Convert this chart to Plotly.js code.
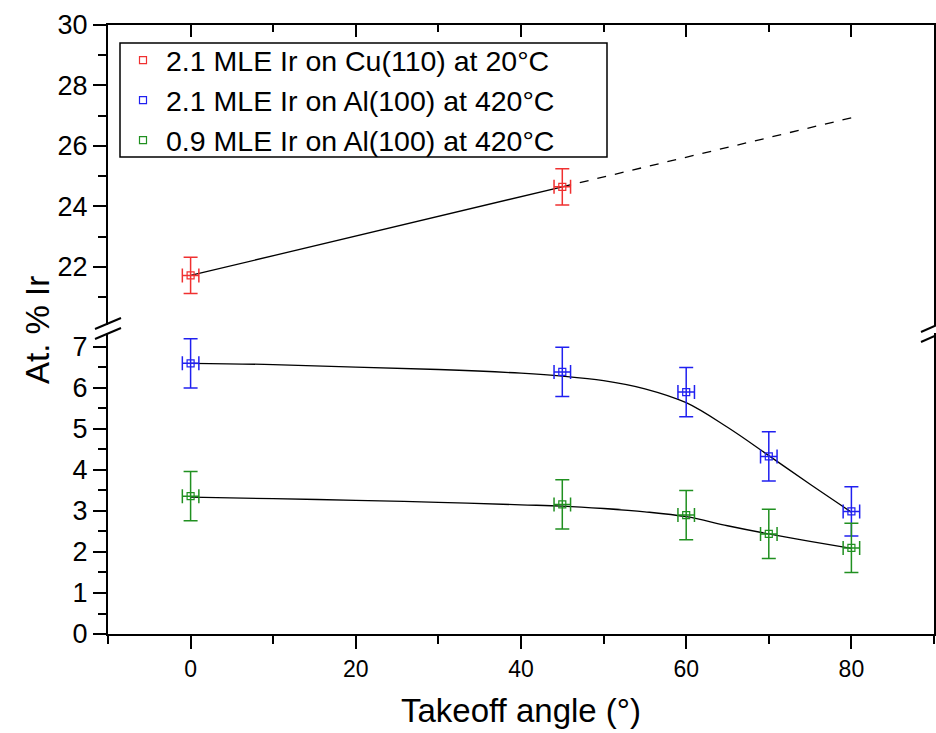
<!DOCTYPE html>
<html>
<head>
<meta charset="utf-8">
<script src="https://cdn.plot.ly/plotly-3.0.1.min.js"></script>
<style>html,body{margin:0;padding:0;background:#fff;}#chart{width:936px;height:733px;}</style>
</head>
<body>
<div id="chart"></div>
<script>
// ---- data ----
const seriesNames = ["2.1 MLE Ir on Cu(110) at 20°C", "2.1 MLE Ir on Al(100) at 420°C", "0.9 MLE Ir on Al(100) at 420°C"];
// Cu(110) points (upper panel)
const cuX = [0, 45];
const cuY = [21.72, 24.65];
const cuErrY = [0.6, 0.6];
const cuErrX = [1, 1];
// Cu guide line (solid) and extrapolation (dashed)
const cuLineX = [0, 45];
const cuLineY = [21.72, 24.65];
const cuDashX = [45, 80];
const cuDashY = [24.65, 26.93];
// Al(100) 2.1 MLE points
const al21X = [0, 45, 60, 70, 80];
const al21Y = [6.6, 6.39, 5.9, 4.33, 2.99];
const al21ErrY = [0.6, 0.6, 0.6, 0.6, 0.6];
const al21ErrX = [1, 1, 1, 1, 1];
// Al(100) 2.1 MLE fitted curve
const al21FitX = [0, 10, 20, 30, 40, 45, 50, 55, 60, 65, 70, 75, 80];
const al21FitY = [6.6, 6.57, 6.51, 6.45, 6.36, 6.29, 6.18, 5.98, 5.64, 5.04, 4.35, 3.65, 2.97];
// Al(100) 0.9 MLE points
const al09X = [0, 45, 60, 70, 80];
const al09Y = [3.36, 3.16, 2.9, 2.44, 2.1];
const al09ErrY = [0.6, 0.6, 0.6, 0.6, 0.6];
const al09ErrX = [1, 1, 1, 1, 1];
// Al(100) 0.9 MLE fitted curve
const al09FitX = [0, 10, 20, 30, 40, 45, 50, 55, 60, 65, 70, 75, 80];
const al09FitY = [3.34, 3.30, 3.26, 3.21, 3.15, 3.12, 3.06, 2.98, 2.86, 2.64, 2.44, 2.26, 2.09];

const xTitle = "Takeoff angle (°)";
const yTitle = "At. % Ir";
const colors = ["#f03030", "#2020f0", "#209020"];

// ---- traces ----
function pts(x, y, ex, ey, name, color, xa, ya) {
  return {
    x: x, y: y, name: name, type: "scatter", mode: "markers",
    xaxis: xa, yaxis: ya,
    marker: {symbol: "square-open", size: 7, color: color, line: {width: 1.2, color: color}},
    error_y: {type: "data", array: ey, visible: true, color: color, thickness: 1.5, width: 7},
    error_x: {type: "data", array: ex, visible: true, color: color, thickness: 1.5, width: 7}
  };
}
function line(x, y, dash, xa, ya, shape) {
  return {x: x, y: y, type: "scatter", mode: "lines", showlegend: false, hoverinfo: "skip",
    xaxis: xa, yaxis: ya, line: {color: "#000", width: 1.3, dash: dash, shape: shape || "linear"}};
}
const data = [
  line(cuLineX, cuLineY, "solid", "x2", "y2"),
  line(cuDashX, cuDashY, "dash", "x2", "y2"),
  line(al21FitX, al21FitY, "solid", "x", "y", "spline"),
  line(al09FitX, al09FitY, "solid", "x", "y", "spline"),
  pts(cuX, cuY, cuErrX, cuErrY, seriesNames[0], colors[0], "x2", "y2"),
  pts(al21X, al21Y, al21ErrX, al21ErrY, seriesNames[1], colors[1], "x", "y"),
  pts(al09X, al09Y, al09ErrX, al09ErrY, seriesNames[2], colors[2], "x", "y")
];

const font = "Liberation Sans, Arial, sans-serif";
const W = 826, H = 609;
function px(v) { return (v - 108) / W; }
function py(v) { return (634 - v) / H; }

const layout = {
  width: 936, height: 733,
  margin: {l: 108, r: 2, t: 25, b: 99},
  paper_bgcolor: "#fff", plot_bgcolor: "#fff",
  font: {family: font, color: "#000"},
  showlegend: true,
  legend: {
    x: px(120), y: py(35), xanchor: "left", yanchor: "top",
    borderwidth: 0, bgcolor: "rgba(0,0,0,0)",
    font: {size: 28.5, family: font, color: "#000"},
    itemwidth: 36,
    traceorder: "normal"
  },
  xaxis: {
    domain: [0, 1], anchor: "y", range: [-10, 90],
    tick0: 0, dtick: 20, ticks: "outside", ticklen: 13, tickwidth: 2, tickcolor: "#000",
    minor: {dtick: 10, tick0: 0, ticks: "outside", ticklen: 8, tickwidth: 2, tickcolor: "#000"},
    showline: true, linewidth: 2, linecolor: "#000", mirror: false,
    showgrid: false, zeroline: false,
    tickfont: {size: 23, family: font},
    title: {text: xTitle, font: {size: 33, family: font}, standoff: 18}
  },
  xaxis2: {
    domain: [0, 1], anchor: "y2", range: [-10, 90], side: "top",
    tick0: 0, dtick: 20, ticks: "inside", ticklen: 12, tickwidth: 2, tickcolor: "#000",
    minor: {dtick: 10, tick0: 0, ticks: "inside", ticklen: 7, tickwidth: 2, tickcolor: "#000"},
    showticklabels: false, showline: true, linewidth: 2, linecolor: "#000",
    showgrid: false, zeroline: false
  },
  yaxis: {
    domain: [0, py(333)], anchor: "x", range: [0, 7.34],
    tick0: 0, dtick: 1, ticks: "outside", ticklen: 13, tickwidth: 2, tickcolor: "#000",
    minor: {dtick: 0.5, ticks: "outside", ticklen: 8, tickwidth: 2, tickcolor: "#000"},
    showline: true, linewidth: 2, linecolor: "#000", mirror: true,
    showgrid: false, zeroline: false,
    tickfont: {size: 27, family: font}
  },
  yaxis2: {
    domain: [py(325), 1], anchor: "x2", range: [20.08, 30],
    tick0: 20, dtick: 2, ticks: "outside", ticklen: 13, tickwidth: 2, tickcolor: "#000",
    minor: {dtick: 1, ticks: "outside", ticklen: 8, tickwidth: 2, tickcolor: "#000"},
    showline: true, linewidth: 2, linecolor: "#000", mirror: true,
    showgrid: false, zeroline: false,
    tickfont: {size: 27, family: font}
  },
  annotations: [{
    text: yTitle, xref: "paper", yref: "paper", x: px(38), y: py(330),
    xanchor: "center", yanchor: "middle", textangle: -90, showarrow: false,
    font: {size: 33, family: font, color: "#000"}
  }],
  shapes: [
    // legend frame
    {type: "rect", xref: "paper", yref: "paper", x0: px(120), y0: py(157), x1: px(607), y1: py(43), line: {color: "#000", width: 1.5}, fillcolor: "rgba(0,0,0,0)"},
    // axis break marks
    {type: "line", xref: "paper", yref: "paper", x0: px(95), y0: py(329), x1: px(121), y1: py(318), line: {color: "#000", width: 2}},
    {type: "line", xref: "paper", yref: "paper", x0: px(95), y0: py(339), x1: px(121), y1: py(328), line: {color: "#000", width: 2}},
    {type: "line", xref: "paper", yref: "paper", x0: px(921), y0: py(332), x1: px(946), y1: py(321), line: {color: "#000", width: 2}},
    {type: "line", xref: "paper", yref: "paper", x0: px(921), y0: py(342), x1: px(946), y1: py(331), line: {color: "#000", width: 2}}
  ]
};

Plotly.newPlot("chart", data, layout, {displayModeBar: false, staticPlot: true});
</script>
</body>
</html>
